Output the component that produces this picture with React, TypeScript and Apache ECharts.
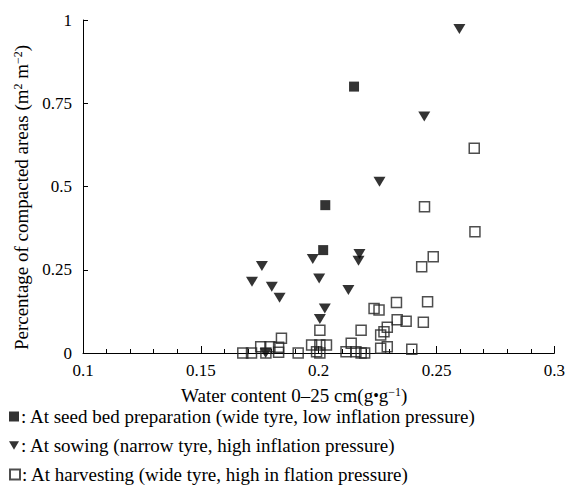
import React, { useEffect, useRef } from "react";
import * as echarts from "echarts";

const seedbedX = [0.215, 0.2028, 0.2019];
const seedbedY = [0.8, 0.444, 0.309];

const sowingX = [0.2597, 0.2448, 0.2258, 0.1975, 0.2173, 0.2169, 0.2002, 0.2126, 0.2026, 0.2005, 0.1759, 0.1717, 0.1801, 0.1834, 0.1775];
const sowingY = [0.973, 0.71, 0.514, 0.282, 0.297, 0.277, 0.224, 0.189, 0.134, 0.102, 0.261, 0.214, 0.199, 0.166, 0.0];

const harvestX = [0.1678, 0.1715, 0.1754, 0.1793, 0.183, 0.183, 0.1842, 0.1776, 0.1913, 0.2005, 0.197, 0.2005, 0.2033, 0.1991, 0.2005, 0.2138, 0.2116, 0.2158, 0.218, 0.2195, 0.218, 0.2263, 0.2277, 0.2291, 0.2333, 0.2371, 0.2444, 0.2263, 0.2291, 0.2322, 0.2395, 0.2235, 0.2256, 0.233, 0.2462, 0.2437, 0.2486, 0.2449, 0.266, 0.2663];
const harvestY = [0.0, 0.0, 0.019, 0.019, 0.017, 0.002, 0.044, 0.0, 0.0, 0.068, 0.024, 0.024, 0.024, 0.004, 0.0, 0.029, 0.004, 0.004, 0.0, 0.0, 0.068, 0.054, 0.064, 0.077, 0.1, 0.095, 0.092, 0.014, 0.019, -0.003, 0.011, 0.134, 0.129, 0.152, 0.154, 0.259, 0.289, 0.439, 0.615, 0.364];

const seriesNames = [
  "At seed bed preparation (wide tyre, low inflation pressure)",
  "At sowing (narrow tyre, high inflation pressure)",
  "At harvesting (wide tyre, high in flation pressure)",
];

const xTicks = { min: 0.1, max: 0.3, interval: 0.05 };
const yTicks = { min: 0, max: 1, interval: 0.25 };

const zip = (xs: number[], ys: number[]) => xs.map((x, i) => [x, ys[i]]);

const FONT = "'Liberation Serif', 'Times New Roman', serif";
const TRI = "path://M0,0L12,0L6,10Z";

const legendRow = (name: string, top: number) => ({
  orient: "horizontal",
  left: 9,
  top,
  padding: 0,
  itemWidth: 10,
  itemHeight: 10,
  formatter: (n: string) => ": " + n,
  textStyle: { fontFamily: FONT, fontSize: 19, lineHeight: 19, color: "#000", padding: [0, 0, 0, -3] },
  selectedMode: false,
  data: [name],
});

export default function App() {
  const ref = useRef<HTMLDivElement>(null);
  useEffect(() => {
    const chart = echarts.init(ref.current!, null, { renderer: "svg" });
    chart.setOption({
      animation: false,
      backgroundColor: "#fff",
      textStyle: { fontFamily: FONT, color: "#000" },
      grid: { left: 83, right: 7, top: 20, bottom: 135, containLabel: false },
      legend: [
        legendRow(seriesNames[0], 407),
        legendRow(seriesNames[1], 436),
        legendRow(seriesNames[2], 465),
      ],
      xAxis: {
        type: "value",
        min: xTicks.min,
        max: xTicks.max,
        interval: xTicks.interval,
        name: "Water content 0–25 cm(g{b|•}g{sup|−1})",
        nameLocation: "middle",
        nameGap: 33,
        nameTextStyle: {
          fontFamily: FONT,
          fontSize: 19,
          color: "#000",
          padding: [0, 49, 0, 0],
          rich: {
            sup: { fontSize: 12, verticalAlign: "top", fontFamily: FONT, color: "#000" },
            b: { fontSize: 16, fontFamily: FONT, color: "#000" },
          },
        },
        axisLine: { lineStyle: { color: "#000", width: 1 } },
        axisTick: { inside: true, length: 7, lineStyle: { color: "#000" } },
        minorTick: { show: true, splitNumber: 5, length: 4, lineStyle: { color: "#000" } },
        axisLabel: { fontFamily: FONT, fontSize: 17, color: "#000", margin: 9 },
        splitLine: { show: false },
      },
      yAxis: {
        type: "value",
        min: yTicks.min,
        max: yTicks.max,
        interval: yTicks.interval,
        name: "Percentage of compacted areas (m{sup|2} m{sup|−2})",
        nameLocation: "middle",
        nameGap: 50,
        nameTextStyle: {
          fontFamily: FONT,
          fontSize: 19,
          color: "#000",
          padding: [0, 22, 0, 0],
          rich: {
            sup: { fontSize: 12, verticalAlign: "top", fontFamily: FONT, color: "#000" },
          },
        },
        axisLine: { show: true, lineStyle: { color: "#000", width: 1 } },
        axisTick: { show: true, inside: true, length: 5, lineStyle: { color: "#000" } },
        axisLabel: { fontFamily: FONT, fontSize: 17, color: "#000", margin: 11 },
        splitLine: { show: false },
      },
      series: [
        {
          name: seriesNames[2],
          type: "scatter",
          symbol: "rect",
          symbolSize: 10,
          itemStyle: { color: "rgba(255,255,255,0)", borderColor: "#222", borderWidth: 1.5 },
          data: zip(harvestX, harvestY),
          z: 3,
        },
        {
          name: seriesNames[1],
          type: "scatter",
          symbol: TRI,
          symbolSize: [12, 10],
          itemStyle: { color: "#000" },
          data: zip(sowingX, sowingY),
          z: 2,
        },
        {
          name: seriesNames[0],
          type: "scatter",
          symbol: "rect",
          symbolSize: 10,
          itemStyle: { color: "#000" },
          data: zip(seedbedX, seedbedY),
          z: 2,
        },
      ],
    });
    return () => chart.dispose();
  }, []);
  return (
    <div
      ref={ref}
      style={{ position: "absolute", left: 0, top: 0, width: 568, height: 488, background: "#fff" }}
    />
  );
}
